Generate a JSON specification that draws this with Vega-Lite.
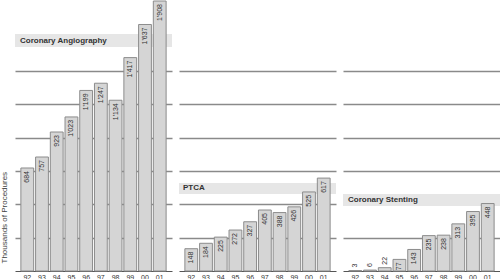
{
  "$schema": "https://vega.github.io/schema/vega-lite/v6.json",
  "padding": 0,
  "background": "white",
  "datasets": {
    "angio": [
      {"year": "92", "value": 684}, {"year": "93", "value": 757}, {"year": "94", "value": 923},
      {"year": "95", "value": 1023}, {"year": "96", "value": 1199}, {"year": "97", "value": 1247},
      {"year": "98", "value": 1134}, {"year": "99", "value": 1417}, {"year": "00", "value": 1637},
      {"year": "01", "value": 1908}
    ],
    "ptca": [
      {"year": "92", "value": 148}, {"year": "93", "value": 184}, {"year": "94", "value": 225},
      {"year": "95", "value": 272}, {"year": "96", "value": 327}, {"year": "97", "value": 405},
      {"year": "98", "value": 388}, {"year": "99", "value": 426}, {"year": "00", "value": 525},
      {"year": "01", "value": 617}
    ],
    "stent": [
      {"year": "92", "value": 3}, {"year": "93", "value": 6}, {"year": "94", "value": 22},
      {"year": "95", "value": 77}, {"year": "96", "value": 143}, {"year": "97", "value": 235},
      {"year": "98", "value": 238}, {"year": "99", "value": 313}, {"year": "00", "value": 395},
      {"year": "01", "value": 448}
    ]
  },
  "hconcat": [
    {
      "width": 157, "height": 270,
      "data": {"name": "angio"},
      "layer": [
        {"data": {"values": [{"label": "Coronary Angiography"}]},
         "mark": {"type": "rect", "color": "#e6e6e6"},
         "encoding": {"y": {"datum": 1487, "type": "quantitative"}, "y2": {"datum": 1574}, "x": {"value": 0}, "x2": {"value": "width"}}},
        {"mark": {"type": "bar", "fill": "#d5d5d5", "stroke": "#8c8c8c", "strokeWidth": 1},
         "encoding": {
           "x": {"field": "year", "type": "ordinal", "sort": null, "scale": {"paddingInner": 0.13, "paddingOuter": 0.4}, "axis": {"title": null}},
           "y": {"field": "value", "type": "quantitative", "scale": {"domain": [0, 1793], "clamp": true, "nice": false},
                 "axis": {"title": "Thousands of Procedures", "titleY": 262, "values": [221, 443, 664, 886, 1107, 1328]}}
         }},
        {"transform": [{"filter": "datum.value >= 50"}],
         "mark": {"type": "text", "angle": 270, "align": "right", "baseline": "middle", "dx": -3, "fontSize": 7, "color": "#333"},
         "encoding": {"x": {"field": "year", "type": "ordinal", "sort": null}, "y": {"field": "value", "type": "quantitative"}, "text": {"field": "value", "type": "quantitative", "format": ","}}},
        {"data": {"values": [{"label": "Coronary Angiography"}]},
         "mark": {"type": "text", "align": "left", "baseline": "middle", "fontSize": 8, "fontWeight": "bold", "color": "#333"},
         "encoding": {"y": {"datum": 1530, "type": "quantitative"}, "x": {"value": 5}, "text": {"field": "label"}}}
      ]
    },
    {
      "width": 157, "height": 270,
      "data": {"name": "ptca"},
      "layer": [
        {"data": {"values": [{"label": "PTCA"}]},
         "mark": {"type": "rect", "color": "#e6e6e6"},
         "encoding": {"y": {"datum": 511, "type": "quantitative"}, "y2": {"datum": 584}, "x": {"value": 0}, "x2": {"value": "width"}}},
        {"mark": {"type": "bar", "fill": "#d5d5d5", "stroke": "#8c8c8c", "strokeWidth": 1},
         "encoding": {
           "x": {"field": "year", "type": "ordinal", "sort": null, "scale": {"paddingInner": 0.13, "paddingOuter": 0.4}, "axis": {"title": null}},
           "y": {"field": "value", "type": "quantitative", "scale": {"domain": [0, 1793], "clamp": true, "nice": false},
                 "axis": {"title": null, "values": [221, 443, 664, 886, 1107, 1328]}}
         }},
        {"transform": [{"filter": "datum.value >= 50"}],
         "mark": {"type": "text", "angle": 270, "align": "right", "baseline": "middle", "dx": -3, "fontSize": 7, "color": "#333"},
         "encoding": {"x": {"field": "year", "type": "ordinal", "sort": null}, "y": {"field": "value", "type": "quantitative"}, "text": {"field": "value", "type": "quantitative", "format": ","}}},
        {"data": {"values": [{"label": "PTCA"}]},
         "mark": {"type": "text", "align": "left", "baseline": "middle", "fontSize": 8, "fontWeight": "bold", "color": "#333"},
         "encoding": {"y": {"datum": 548, "type": "quantitative"}, "x": {"value": 4}, "text": {"field": "label"}}}
      ]
    },
    {
      "width": 157, "height": 270,
      "data": {"name": "stent"},
      "layer": [
        {"data": {"values": [{"label": "Coronary Stenting"}]},
         "mark": {"type": "rect", "color": "#e6e6e6"},
         "encoding": {"y": {"datum": 432, "type": "quantitative"}, "y2": {"datum": 511}, "x": {"value": 0}, "x2": {"value": "width"}}},
        {"mark": {"type": "bar", "fill": "#d5d5d5", "stroke": "#8c8c8c", "strokeWidth": 1},
         "encoding": {
           "x": {"field": "year", "type": "ordinal", "sort": null, "scale": {"paddingInner": 0.13, "paddingOuter": 0.4}, "axis": {"title": null}},
           "y": {"field": "value", "type": "quantitative", "scale": {"domain": [0, 1793], "clamp": true, "nice": false},
                 "axis": {"title": null, "values": [221, 443, 664, 886, 1107, 1328]}}
         }},
        {"transform": [{"filter": "datum.value >= 50"}],
         "mark": {"type": "text", "angle": 270, "align": "right", "baseline": "middle", "dx": -3, "fontSize": 7, "color": "#333"},
         "encoding": {"x": {"field": "year", "type": "ordinal", "sort": null}, "y": {"field": "value", "type": "quantitative"}, "text": {"field": "value", "type": "quantitative", "format": ","}}},
        {"transform": [{"filter": "datum.value < 50"}],
         "mark": {"type": "text", "angle": 270, "align": "left", "baseline": "middle", "dx": 3, "fontSize": 7, "color": "#333"},
         "encoding": {"x": {"field": "year", "type": "ordinal", "sort": null}, "y": {"field": "value", "type": "quantitative"}, "text": {"field": "value", "type": "quantitative", "format": ","}}},
        {"data": {"values": [{"label": "Coronary Stenting"}]},
         "mark": {"type": "text", "align": "left", "baseline": "middle", "fontSize": 8, "fontWeight": "bold", "color": "#333"},
         "encoding": {"y": {"datum": 471, "type": "quantitative"}, "x": {"value": 5}, "text": {"field": "label"}}}
      ]
    }
  ],
  "spacing": 7,
  "config": {
    "locale": {"number": {"decimal": ".", "thousands": "'", "grouping": [3], "currency": ["", ""]}},
    "font": "Liberation Sans",
    "view": {"stroke": null},
    "axisX": {"domainColor": "#555", "domainWidth": 1, "ticks": false, "labelAngle": 0, "labelFontSize": 7, "labelColor": "#333", "labelPadding": 2, "grid": false},
    "axisY": {"labels": false, "ticks": false, "domain": false, "grid": true, "gridColor": "#8a8a8a", "gridWidth": 1.5,
              "titleFontSize": 8, "titleFontWeight": "normal", "titleColor": "#444", "titleAnchor": "start", "titlePadding": 7}
  }
}
